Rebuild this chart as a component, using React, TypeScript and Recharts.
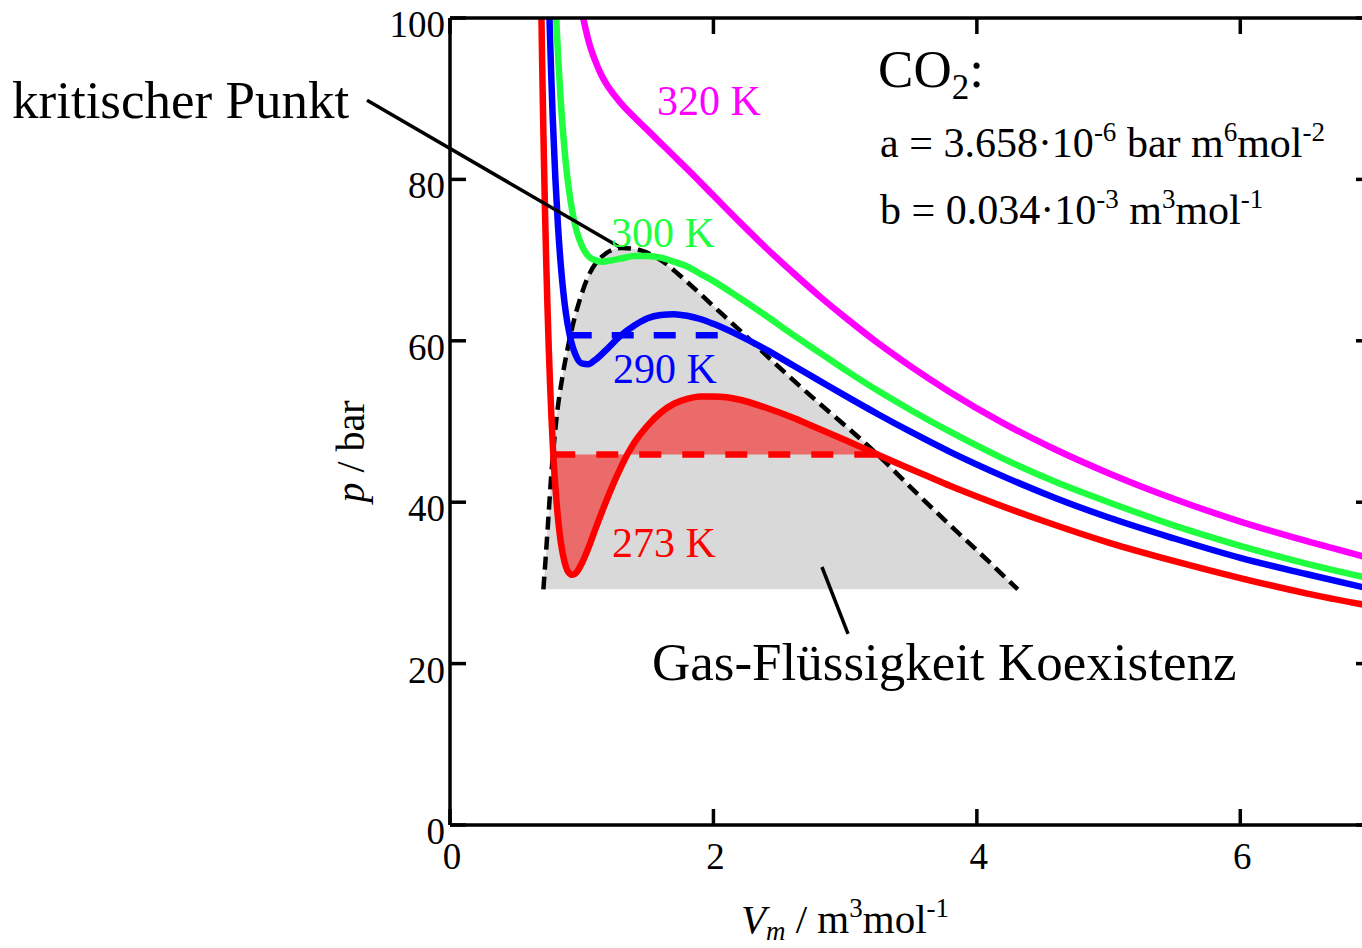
import React from "react";
import {
  ComposedChart, XAxis, YAxis, Line, Area, ReferenceLine, ReferenceDot,
} from "recharts";

const FONT = '"Liberation Serif", "Times New Roman", Times, serif';

// ticks
const X_TICKS = [0, 2, 4, 6];
const Y_TICKS = [0, 20, 40, 60, 80, 100];

// isotherms, V in 10^-4 m3/mol, p in bar
const V_273 = [0.69, 0.7, 0.71, 0.72, 0.73, 0.74, 0.75, 0.76, 0.77, 0.784, 0.8, 0.82, 0.84, 0.86, 0.88, 0.9, 0.93, 0.96, 1.0, 1.05, 1.1, 1.2, 1.3, 1.346, 1.4, 1.5, 1.6, 1.7, 1.8, 1.9, 2.0, 2.1, 2.2, 2.4, 2.6, 2.8, 3.0, 3.247, 3.4, 3.6, 3.8, 4.0, 4.5, 5.0, 5.5, 6.0, 6.5, 7.0];
const P_273 = [104.6, 94.1, 85.0, 77.0, 70.1, 64.2, 59.0, 54.5, 50.6, 45.9, 41.9, 38.0, 35.2, 33.3, 32.0, 31.3, 31.0, 31.3, 32.4, 34.3, 36.5, 40.7, 44.4, 45.9, 47.4, 49.5, 51.1, 52.2, 52.8, 53.1, 53.1, 53.0, 52.7, 51.7, 50.5, 49.1, 47.7, 45.9, 44.8, 43.4, 42.0, 40.7, 37.7, 35.0, 32.7, 30.6, 28.7, 27.1];

const V_290 = [0.74, 0.75, 0.76, 0.77, 0.78, 0.8, 0.82, 0.84, 0.86, 0.88, 0.909, 0.92, 0.95, 1.0, 1.05, 1.1, 1.2, 1.3, 1.4, 1.5, 1.6, 1.7, 1.8, 1.9, 2.0, 2.19, 2.4, 2.6, 2.8, 3.0, 3.25, 3.5, 3.8, 4.2, 4.6, 5.0, 5.5, 6.0, 6.5, 7.0];
const P_290 = [109.8, 103.2, 97.3, 92.2, 87.6, 80.1, 74.2, 69.6, 66.1, 63.4, 60.7, 59.9, 58.4, 57.2, 57.1, 57.6, 59.1, 60.7, 61.9, 62.8, 63.2, 63.3, 63.1, 62.7, 62.1, 60.7, 58.9, 57.0, 55.1, 53.2, 50.9, 48.7, 46.2, 43.2, 40.5, 38.1, 35.5, 33.1, 31.1, 29.2];

const V_300 = [0.78, 0.79, 0.8, 0.81, 0.82, 0.84, 0.86, 0.88, 0.9, 0.93, 0.96, 1.0, 1.05, 1.1, 1.15, 1.2, 1.3, 1.4, 1.5, 1.6, 1.7, 1.8, 1.9, 2.0, 2.2, 2.4, 2.6, 2.8, 3.0, 3.25, 3.5, 3.8, 4.2, 4.6, 5.0, 5.5, 6.0, 6.5, 7.0];
const P_300 = [111.4, 106.7, 102.6, 98.8, 95.5, 89.9, 85.5, 81.9, 79.1, 75.9, 73.7, 71.8, 70.5, 70.0, 69.8, 69.9, 70.2, 70.5, 70.5, 70.3, 69.8, 69.2, 68.3, 67.4, 65.3, 63.1, 60.8, 58.6, 56.4, 53.8, 51.4, 48.7, 45.4, 42.5, 40.0, 37.1, 34.6, 32.4, 30.5];

const V_320 = [0.96, 0.98, 1.0, 1.03, 1.06, 1.1, 1.15, 1.2, 1.3, 1.4, 1.5, 1.6, 1.7, 1.8, 2.0, 2.2, 2.4, 2.6, 2.8, 3.0, 3.25, 3.5, 3.8, 4.2, 4.6, 5.0, 5.5, 6.0, 6.5, 7.0];
const P_320 = [105.1, 102.8, 101.0, 98.6, 96.7, 94.8, 92.9, 91.5, 89.4, 87.7, 86.1, 84.5, 82.9, 81.3, 78.0, 74.7, 71.5, 68.5, 65.6, 62.9, 59.7, 56.8, 53.6, 49.8, 46.5, 43.6, 40.4, 37.6, 35.2, 33.0];

// coexistence curve (dashed) and the floor of the grey region
const V_COEX = [0.709, 0.725, 0.745, 0.765, 0.785, 0.81, 0.85, 0.89, 0.93, 0.98, 1.05, 1.15, 1.3, 1.45, 1.6, 1.8, 2.0, 2.22, 2.5, 2.8, 3.0, 3.24, 3.5, 3.8, 4.1, 4.31];
const P_COEX = [29.2, 32.8, 37.6, 42.5, 46.5, 50.6, 55.2, 58.8, 61.8, 64.8, 68.0, 70.4, 71.5, 71.2, 70.0, 67.3, 64.3, 61.0, 56.7, 52.3, 49.5, 46.0, 41.8, 37.1, 32.5, 29.2];
const P_COEX_FLOOR = 29.2;

// Maxwell lines
const TIE_273_V = [0.784, 3.247];
const TIE_273_P = 45.9;
const TIE_290_V = [0.909, 2.19];
const TIE_290_P = 60.7;

const pts = (v: number[], p: number[]) => v.map((x, i) => ({ V: x, p: p[i] }));

const iso273 = pts(V_273, P_273);
const iso290 = pts(V_290, P_290);
const iso300 = pts(V_300, P_300);
const iso320 = pts(V_320, P_320);
const coex = pts(V_COEX, P_COEX);
const coexFill = coex.map((d) => ({ V: d.V, r: [P_COEX_FLOOR, d.p] }));
const lobes = iso273
  .filter((d) => d.V >= TIE_273_V[0] && d.V <= TIE_273_V[1])
  .map((d) => ({ V: d.V, r: [Math.min(d.p, TIE_273_P), Math.max(d.p, TIE_273_P)] }));
const tie273 = TIE_273_V.map((v) => ({ V: v, p: TIE_273_P }));
const tie290 = TIE_290_V.map((v) => ({ V: v, p: TIE_290_P }));

const RED = "#ff0000";
const BLUE = "#0000ff";
const GREEN = "#1fff3f";
const MAGENTA = "#ff00ff";

const SUP = 27;
const CURVE_W = 6.5;
const TICK_LEN = 16;
const TOP = 18; // plot top (chart margin)

const note = (size: number, color: string, body: React.ReactNode) => (props: any) => {
  const vb = props.viewBox || {};
  return (
    <text x={vb.x} y={vb.y} fontSize={size} fill={color} fontFamily={FONT}>
      {body}
    </text>
  );
};

// left axis: label plus inward tick mark
const YTick = (p: any) => {
  const ax = p.x + 5;
  return (
    <g>
      <line x1={ax} y1={p.y} x2={ax + TICK_LEN} y2={p.y} stroke="#000" strokeWidth={3.5} />
      <text x={p.x} y={p.y + 19} textAnchor="end" fontSize={37} fontFamily={FONT} fill="#000">
        {p.payload.value}
      </text>
    </g>
  );
};

// bottom axis: label plus inward tick marks at bottom and top of the frame
const XTick = (p: any) => (
  <g>
    <line x1={p.x} y1={p.y} x2={p.x} y2={p.y - TICK_LEN} stroke="#000" strokeWidth={3.5} />
    <line x1={p.x} y1={TOP} x2={p.x} y2={TOP + TICK_LEN} stroke="#000" strokeWidth={3.5} />
    <text x={p.x + 2} y={p.y + 44} textAnchor="middle" fontSize={37} fontFamily={FONT} fill="#000">
      {p.payload.value}
    </text>
  </g>
);

const YTitle = (props: any) => {
  const vb = props.viewBox;
  const x = vb.x + vb.width - 86;
  const y = vb.y + vb.height / 2 + 30;
  return (
    <text x={x} y={y} transform={`rotate(-90 ${x} ${y})`} textAnchor="middle" fontSize={40} fontFamily={FONT} fill="#000">
      <tspan fontStyle="italic">p</tspan> / bar
    </text>
  );
};

const XTitle = (props: any) => {
  const vb = props.viewBox;
  const x = vb.x + 395;
  const y = vb.y + 108;
  return (
    <text x={x} y={y} textAnchor="middle" fontSize={41} fontFamily={FONT} fill="#000">
      <tspan fontStyle="italic">V</tspan>
      <tspan fontStyle="italic" fontSize={SUP} dy={7}>m</tspan>
      <tspan dy={-7}> / m</tspan>
      <tspan fontSize={SUP} dy={-16}>3</tspan>
      <tspan dy={16}>mol</tspan>
      <tspan fontSize={SUP} dy={-16}>-1</tspan>
    </text>
  );
};

const axisStroke = { stroke: "#000", strokeWidth: 3.5 };

export default function App() {
  return (
    <div style={{ position: "absolute", left: 0, top: 0, width: 1362, height: 948, overflow: "hidden", background: "#fff" }}>
      <ComposedChart width={1382} height={948} margin={{ top: TOP, right: 10, bottom: 0, left: 0 }}>
        <XAxis
          type="number" dataKey="V" domain={[0, 7]} allowDataOverflow ticks={X_TICKS}
          height={123} axisLine={axisStroke} tickLine={false} tickSize={0} tickMargin={0}
          tick={XTick} label={XTitle}
        />
        <YAxis
          type="number" domain={[0, 100]} allowDataOverflow ticks={Y_TICKS} width={450}
          axisLine={axisStroke} tickLine={false} tickSize={0} tickMargin={5}
          tick={YTick} label={YTitle}
        />
        {/* frame: top line and right side with inward ticks */}
        <XAxis
          xAxisId="top" orientation="top" mirror type="number" domain={[0, 7]} allowDataOverflow
          ticks={X_TICKS} axisLine={axisStroke} tickLine={false} tick={false}
        />
        <YAxis
          yAxisId="right" orientation="right" mirror type="number" domain={[0, 100]} allowDataOverflow
          ticks={Y_TICKS} axisLine={axisStroke} tickLine={axisStroke} tickSize={TICK_LEN} tick={() => <g />}
        />

        <Area data={coexFill} dataKey="r" type="monotone" stroke="none" fill="#d9d9d9" fillOpacity={1} dot={false} activeDot={false} isAnimationActive={false} />
        <Area data={lobes} dataKey="r" type="monotone" stroke="none" fill="#eb6a6a" fillOpacity={1} dot={false} activeDot={false} isAnimationActive={false} />

        <Line data={coex} dataKey="p" type="monotone" stroke="#000" strokeWidth={4.5} strokeDasharray="13 7" dot={false} activeDot={false} isAnimationActive={false} />
        <Line data={tie273} dataKey="p" type="linear" stroke={RED} strokeWidth={CURVE_W} strokeDasharray="22 21" dot={false} activeDot={false} isAnimationActive={false} />
        <Line data={tie290} dataKey="p" type="linear" stroke={BLUE} strokeWidth={CURVE_W} strokeDasharray="22 20" dot={false} activeDot={false} isAnimationActive={false} />

        <Line data={iso320} dataKey="p" type="monotone" stroke={MAGENTA} strokeWidth={CURVE_W} dot={false} activeDot={false} isAnimationActive={false} />
        <Line data={iso300} dataKey="p" type="monotone" stroke={GREEN} strokeWidth={CURVE_W} dot={false} activeDot={false} isAnimationActive={false} />
        <Line data={iso290} dataKey="p" type="monotone" stroke={BLUE} strokeWidth={CURVE_W} dot={false} activeDot={false} isAnimationActive={false} />
        <Line data={iso273} dataKey="p" type="monotone" stroke={RED} strokeWidth={CURVE_W} dot={false} activeDot={false} isAnimationActive={false} />

        <ReferenceLine segment={[{ x: -0.63, y: 89.8 }, { x: 1.29, y: 71.6 }]} stroke="#000" strokeWidth={3.5} ifOverflow="visible" />
        <ReferenceLine segment={[{ x: 2.824, y: 31.97 }, { x: 3.022, y: 23.67 }]} stroke="#000" strokeWidth={3.5} ifOverflow="visible" />

        <ReferenceDot x={-3.325} y={87.6} r={0} ifOverflow="visible" label={note(53, "#000", "kritischer Punkt")} />
        <ReferenceDot x={1.572} y={88.0} r={0} ifOverflow="visible" label={note(42, MAGENTA, "320 K")} />
        <ReferenceDot x={1.222} y={71.6} r={0} ifOverflow="visible" label={note(42, GREEN, "300 K")} />
        <ReferenceDot x={1.238} y={54.8} r={0} ifOverflow="visible" label={note(42, BLUE, "290 K")} />
        <ReferenceDot x={1.23} y={33.2} r={0} ifOverflow="visible" label={note(42, RED, "273 K")} />
        <ReferenceDot x={1.534} y={18.0} r={0} ifOverflow="visible" label={note(53, "#000", "Gas-Flüssigkeit Koexistenz")} />
        <ReferenceDot
          x={3.25} y={91.45} r={0} ifOverflow="visible"
          label={note(53, "#000", [
            <tspan key="a">CO</tspan>,
            <tspan key="b" fontSize={35} dy={12}>2</tspan>,
            <tspan key="c" dy={-12}>:</tspan>,
          ])}
        />
        <ReferenceDot
          x={3.265} y={82.78} r={0} ifOverflow="visible"
          label={note(42, "#000", [
            <tspan key="a">a = 3.658·10</tspan>,
            <tspan key="b" fontSize={SUP} dy={-16}>-6</tspan>,
            <tspan key="c" dy={16}> bar m</tspan>,
            <tspan key="d" fontSize={SUP} dy={-16}>6</tspan>,
            <tspan key="e" dy={16}>mol</tspan>,
            <tspan key="f" fontSize={SUP} dy={-16}>-2</tspan>,
          ])}
        />
        <ReferenceDot
          x={3.265} y={74.47} r={0} ifOverflow="visible"
          label={note(42, "#000", [
            <tspan key="a">b = 0.034·10</tspan>,
            <tspan key="b" fontSize={SUP} dy={-16}>-3</tspan>,
            <tspan key="c" dy={16}> m</tspan>,
            <tspan key="d" fontSize={SUP} dy={-16}>3</tspan>,
            <tspan key="e" dy={16}>mol</tspan>,
            <tspan key="f" fontSize={SUP} dy={-16}>-1</tspan>,
          ])}
        />
      </ComposedChart>
    </div>
  );
}
